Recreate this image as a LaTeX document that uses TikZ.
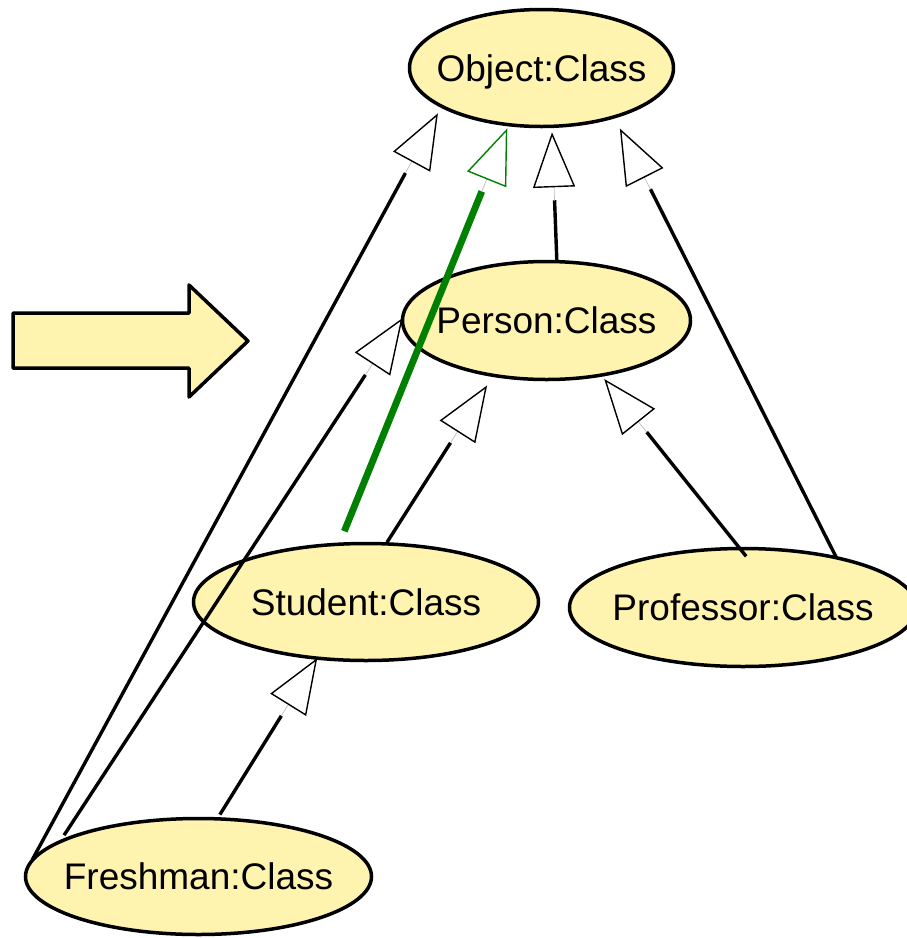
\documentclass[tikz,border=0pt]{standalone}
\usepackage{fontspec}
\setmainfont{Liberation Sans}
\usetikzlibrary{shapes.geometric,arrows.meta,calc}
\definecolor{classfill}{RGB}{255,243,176}
\definecolor{inhgreen}{RGB}{0,128,0}
\tikzset{
  classnode/.style={ellipse, draw=black, line width=3.5pt, fill=classfill,
    inner sep=0pt, outer sep=0pt, text height=26.5pt, text depth=0pt,
    font=\fontsize{37}{40}\selectfont},
  linkjoin/.style={line width=0.7pt, draw=black!25},
  blockarrow/.style={draw=black, line width=3.5pt, fill=classfill, line join=round},
}
% generalisation link: colour, line width, source anchor, start gap,
% target anchor, gap before the open triangle tip
\newcommand\genlink[6]{%
  \pgfmathsetmacro\glEnd{#6+68}%
  \path (#3) coordinate (gs) (#5) coordinate (gt);
  \draw[draw=#1, line width=#2] ($(gs)!#4pt!(gt)$) -- ($(gt)!\glEnd pt!(gs)$);
  \draw[linkjoin, -{Triangle[open, length=55pt, width=42pt, line width=1.4pt, color=#1]}]
    ($(gt)!\glEnd pt!(gs)$) -- ($(gt)!#6pt!(gs)$);
}
\begin{document}
\begin{tikzpicture}[x=1pt, y=-1pt]
\useasboundingbox (0,0) rectangle (907,938);

% class nodes
\node[classnode, minimum width=264pt, minimum height=117pt] (object) at (541.5,68) {\makebox[0pt]{Object:Class}};
\node[classnode, minimum width=288pt, minimum height=118pt] (person) at (546.5,320.5) {\makebox[0pt]{Person:Class}};
\node[classnode, minimum width=345pt, minimum height=117pt] (student) at (366,602) {\makebox[0pt]{Student:Class}};
\node[classnode, minimum width=347pt, minimum height=118pt] (professor) at (743,607.5) {\makebox[0pt]{Professor:Class}};
\node[classnode, minimum width=346pt, minimum height=116pt] (freshman) at (198.5,876.5) {\makebox[0pt]{Freshman:Class}};

% block arrow on the left
\draw[blockarrow] (13,313) -- (189,313) -- (189,285) -- (248,341)
  -- (189,397) -- (189,368) -- (13,368) -- cycle;

% generalisation links
\genlink{black}{3.4pt}{freshman.175}{2}{object.201}{8}
\genlink{black}{3.4pt}{freshman.166}{8}{person.179}{0}
\genlink{inhgreen}{6.8pt}{student.115}{14}{object.240}{4}
\genlink{black}{3.4pt}{person.80}{0}{object.280}{6}
\genlink{black}{3.4pt}{professor.28}{0}{object.326}{13}
\genlink{black}{3.4pt}{student.71}{2}{person.226}{12}
\genlink{black}{3.4pt}{professor.93}{-10}{person.315}{5}
\genlink{black}{3.4pt}{freshman.72}{5}{student.229}{0}
\end{tikzpicture}
\end{document}
